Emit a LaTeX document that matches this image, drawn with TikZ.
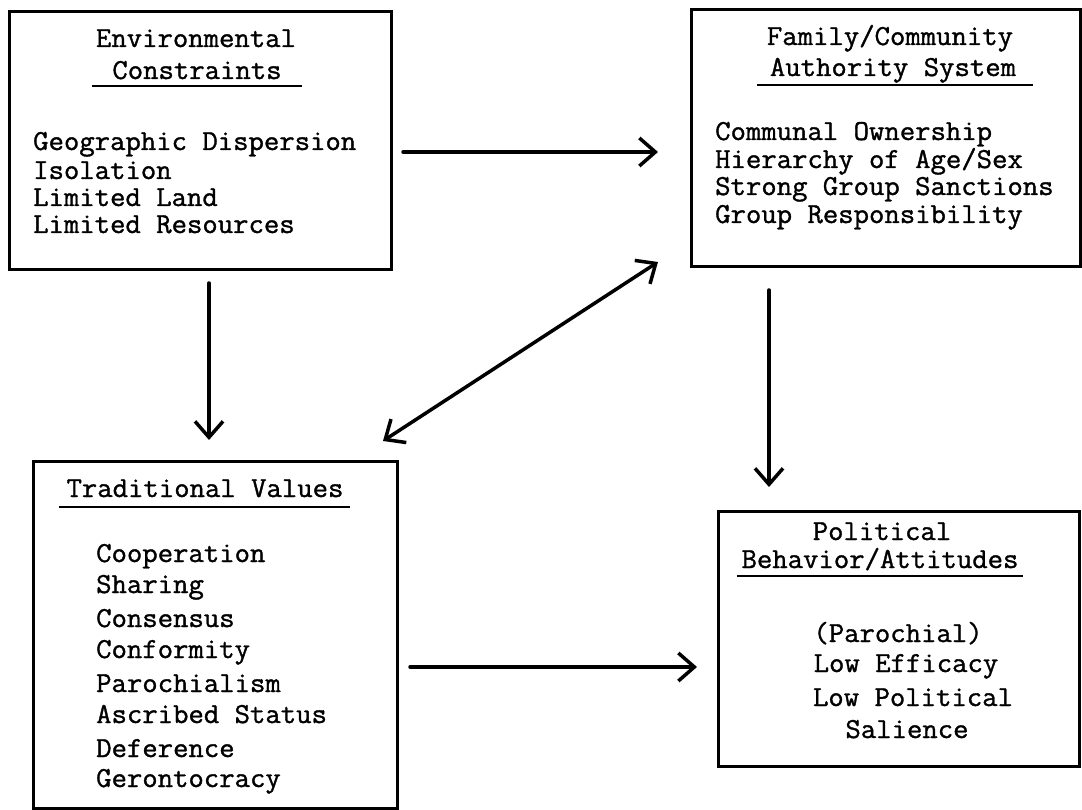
\documentclass[tikz,border=0pt]{standalone}
\usepackage{fontspec}
\newfontfamily\tw{Latin Modern Mono}[FakeStretch=1.03,FakeBold=1.2]
\usetikzlibrary{arrows.meta}
\begin{document}
\begin{tikzpicture}[x=1pt,y=-1pt,
  box/.style={draw, line width=3pt, inner sep=0pt, anchor=north west},
  txt/.style={inner sep=0pt, anchor=base west, font=\tw\fontsize{29}{29}\selectfont},
  ctxt/.style={txt, anchor=base},
  uline/.style={line width=2pt},
  conn/.style={line width=3.5pt, line cap=round, -{Straight Barb[length=16pt,width=28pt,line width=3.5pt]}},
  dconn/.style={line width=3.5pt, line cap=round, {Straight Barb[length=16pt,width=28pt,line width=3.5pt]}-{Straight Barb[length=16pt,width=28pt,line width=3.5pt]}}]
\useasboundingbox (0,0) rectangle (1082,810);

% boxes
\node[box, minimum width=382pt, minimum height=258pt] (env) at (8,10) {};
\node[box, minimum width=389pt, minimum height=257pt] (fam) at (690,8) {};
\node[box, minimum width=364pt, minimum height=347pt] (trad) at (32,460) {};
\node[box, minimum width=361pt, minimum height=255pt] (pol) at (717,510) {};

% Environmental Constraints
\node[ctxt] (envt1) at (196,47) {Environmental};
\node[ctxt] (envt2) at (197,79) {Constraints};
\draw[uline] (92,86) -- (302,86);
\node[txt] (env1) at (33,150) {Geographic Dispersion};
\node[txt] (env2) at (33,179) {Isolation};
\node[txt] (env3) at (33,206) {Limited Land};
\node[txt] (env4) at (33,233) {Limited Resources};

% Family / Community
\node[ctxt] (famt1) at (890,45) {Family/Community};
\node[ctxt] (famt2) at (893,76) {Authority System};
\draw[uline] (757,85) -- (1033,85);
\node[txt] (fam1) at (715,140) {Communal Ownership};
\node[txt] (fam2) at (715,168) {Hierarchy of Age/Sex};
\node[txt] (fam3) at (715,195) {Strong Group Sanctions};
\node[txt] (fam4) at (715,223) {Group Responsibility};

% Traditional Values
\node[ctxt] (tradt) at (205,497) {Traditional Values};
\draw[uline] (59,507) -- (350,507);
\node[txt] (trad1) at (96,562) {Cooperation};
\node[txt] (trad2) at (96,593) {Sharing};
\node[txt] (trad3) at (96,627) {Consensus};
\node[txt] (trad4) at (96,658) {Conformity};
\node[txt] (trad5) at (96,692) {Parochialism};
\node[txt] (trad6) at (96,723) {Ascribed Status};
\node[txt] (trad7) at (96,757) {Deference};
\node[txt] (trad8) at (96,787) {Gerontocracy};

% Political Behavior / Attitudes
\node[ctxt] (polt1) at (882,540) {Political};
\node[ctxt] (polt2) at (880,568) {Behavior/Attitudes};
\draw[uline] (737,576) -- (1023,576);
\node[ctxt] (pol1) at (898,642) {(Parochial)};
\node[ctxt] (pol2) at (906,672) {Low Efficacy};
\node[ctxt] (pol3) at (913,706) {Low Political};
\node[ctxt] (pol4) at (907,738) {Salience};

% connector end points
\coordinate (a1s) at (403,152);
\coordinate (a1e) at (658,152);
\coordinate (a2s) at (209,283);
\coordinate (a2e) at (209,440);
\coordinate (a3s) at (769,290);
\coordinate (a3e) at (769,487);
\coordinate (a4s) at (410,667);
\coordinate (a4e) at (697,667);
\coordinate (a5s) at (383,441);
\coordinate (a5e) at (658,262);

\draw[conn] (a1s) -- (a1e);
\draw[conn] (a2s) -- (a2e);
\draw[conn] (a3s) -- (a3e);
\draw[conn] (a4s) -- (a4e);
\draw[dconn] (a5s) -- (a5e);
\end{tikzpicture}
\end{document}
